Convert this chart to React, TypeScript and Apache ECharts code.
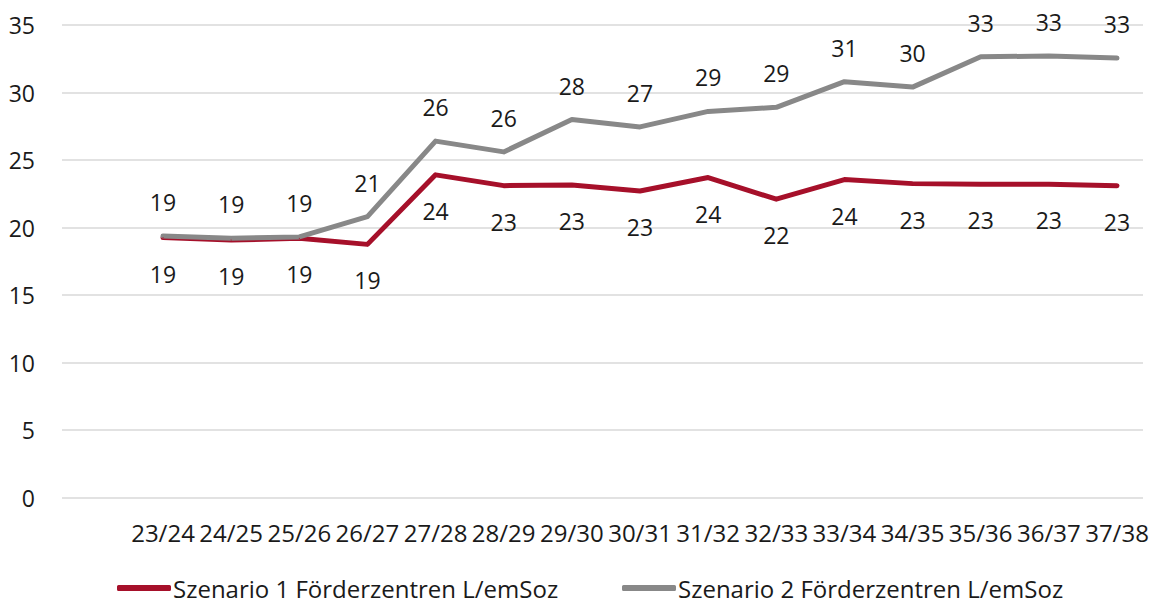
import React, { useEffect, useRef } from "react";
import * as echarts from "echarts";

const categories = ["23/24", "24/25", "25/26", "26/27", "27/28", "28/29", "29/30", "30/31", "31/32", "32/33", "33/34", "34/35", "35/36", "36/37", "37/38"];
const szenario1 = [19.25, 19.07, 19.2, 18.75, 23.9, 23.1, 23.15, 22.7, 23.7, 22.1, 23.55, 23.25, 23.2, 23.2, 23.1];
const szenario2 = [19.37, 19.2, 19.3, 20.8, 26.4, 25.6, 28.0, 27.45, 28.6, 28.9, 30.8, 30.4, 32.65, 32.7, 32.55];
const seriesNames = ["Szenario 1 Förderzentren L/emSoz", "Szenario 2 Förderzentren L/emSoz"];
const yTicks = { min: 0, max: 35, interval: 5 };

const FONT = "'Open Sans', 'Noto Sans', sans-serif";
const RED = "#A6102A";
const GREY = "#888888";
const TEXT = "#1a1a1a";

export default function App() {
  const ref = useRef<HTMLDivElement>(null);
  useEffect(() => {
    if (!ref.current) return;
    const chart = echarts.init(ref.current, undefined, { renderer: "svg" });
    const top = 25;
    const bottom = 105.5;
    const labelFmt = (p: any) => String(Math.round(p.value));
    chart.setOption({
      animation: false,
      textStyle: { fontFamily: FONT },
      grid: [
        { left: 62, right: 9, top, bottom },
        { left: 163, right: 35, top, bottom },
      ],
      xAxis: [
        { gridIndex: 0, type: "category", data: categories, show: false },
        {
          gridIndex: 1,
          type: "category",
          data: categories,
          boundaryGap: false,
          axisLine: { show: false },
          axisTick: { show: false },
          splitLine: { show: false },
          axisLabel: { fontSize: 24, color: TEXT, fontFamily: FONT, margin: 23, interval: 0 },
        },
      ],
      yAxis: [
        {
          gridIndex: 0,
          type: "value",
          min: yTicks.min,
          max: yTicks.max,
          interval: yTicks.interval,
          axisLine: { show: false },
          axisTick: { show: false },
          splitLine: { lineStyle: { color: "#D9D9D9", width: 1.5 } },
          axisLabel: { fontSize: 23, color: TEXT, fontFamily: FONT, margin: 27 },
        },
        { gridIndex: 1, type: "value", min: yTicks.min, max: yTicks.max, interval: yTicks.interval, show: false },
      ],
      legend: [
        {
          data: [seriesNames[0]],
          left: 112,
          top: 571,
          icon: "roundRect",
          itemWidth: 54,
          itemHeight: 6,
          textStyle: { fontSize: 24, color: TEXT, fontFamily: FONT, padding: [0, 0, 0, -3] },
        },
        {
          data: [seriesNames[1]],
          left: 617,
          top: 571,
          icon: "roundRect",
          itemWidth: 54,
          itemHeight: 6,
          textStyle: { fontSize: 24, color: TEXT, fontFamily: FONT, padding: [0, 0, 0, -3] },
        },
      ],
      series: [
        {
          name: seriesNames[0],
          type: "line",
          xAxisIndex: 1,
          yAxisIndex: 1,
          data: szenario1,
          symbol: "circle",
          symbolSize: 1,
          showSymbol: true,
          itemStyle: { color: RED },
          color: RED,
          lineStyle: { color: RED, width: 5, cap: "round", join: "round" },
          label: {
            show: true,
            position: "bottom",
            distance: 24,
            fontSize: 23,
            color: TEXT,
            fontFamily: FONT,
            formatter: labelFmt,
          },
          labelLayout: { hideOverlap: false },
        },
        {
          name: seriesNames[1],
          type: "line",
          xAxisIndex: 1,
          yAxisIndex: 1,
          data: szenario2,
          symbol: "circle",
          symbolSize: 1,
          showSymbol: true,
          itemStyle: { color: GREY },
          color: GREY,
          lineStyle: { color: GREY, width: 5, cap: "round", join: "round" },
          label: {
            show: true,
            position: "top",
            distance: 22,
            fontSize: 23,
            color: TEXT,
            fontFamily: FONT,
            formatter: labelFmt,
          },
          labelLayout: { hideOverlap: false },
        },
      ],
    });
    return () => chart.dispose();
  }, []);
  return <div ref={ref} style={{ position: "fixed", left: 0, top: 0, width: 1152, height: 603, background: "#fff" }} />;
}
